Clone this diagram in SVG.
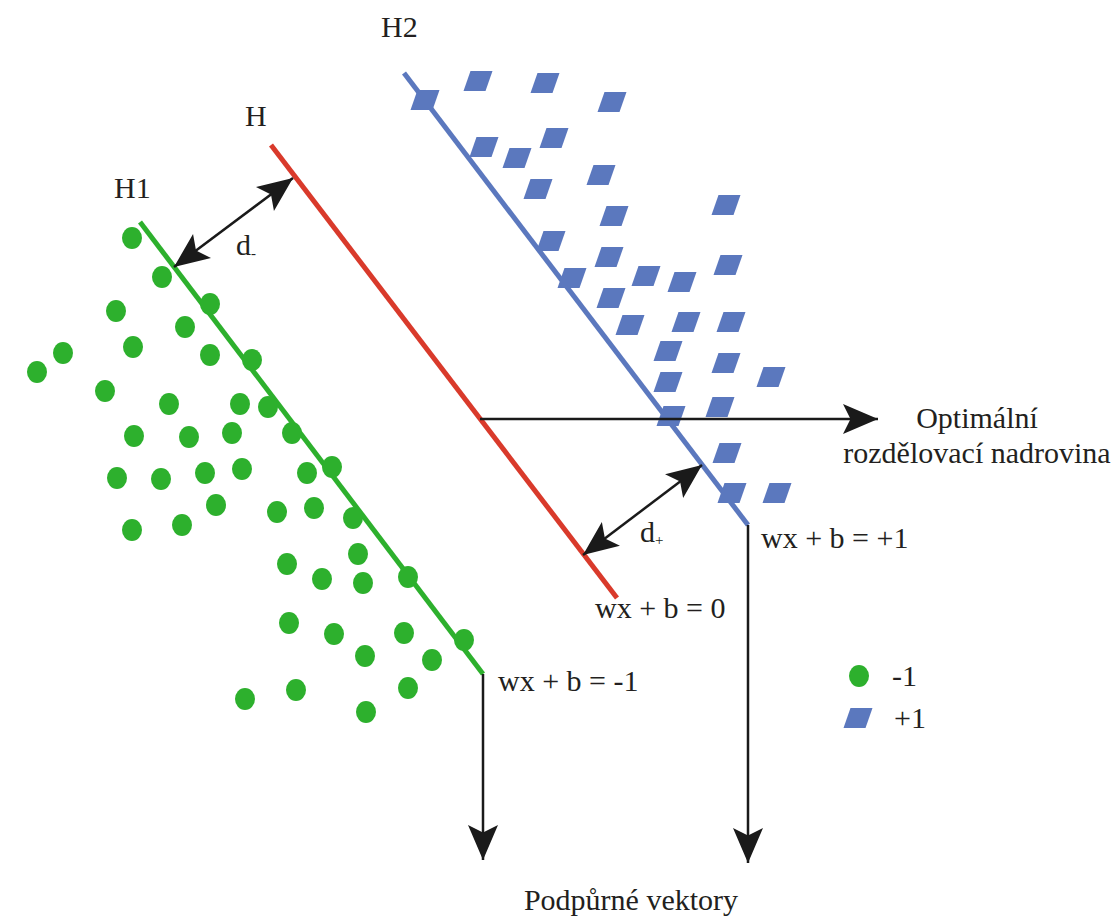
<svg xmlns="http://www.w3.org/2000/svg" width="1115" height="918" viewBox="0 0 1115 918">
<style>
text{font-family:"Liberation Serif","Times New Roman",serif;font-size:30px;fill:#231f20}
.sub{font-size:15px}
.dot{fill:#2db02d}
.sq{fill:#5b78be}
.arr{stroke:#1a1a1a;stroke-width:2.5;fill:none}
</style>
<defs>
<marker id="ah" markerUnits="userSpaceOnUse" markerWidth="40" markerHeight="40" viewBox="-30 -15 32 30" refX="0" refY="0" orient="auto-start-reverse">
<path d="M0,0 L-28,-12 L-22,0 L-28,12 Z" fill="#1a1a1a"/>
</marker>
<ellipse id="c" rx="10" ry="11"/>
<path id="p" d="M-7.5,-10 L14.5,-10 L7.5,10 L-14.5,10 Z"/>
</defs>
<rect width="1115" height="918" fill="#fff"/>
<g id="H1-line"><line x1="140" y1="222" x2="483" y2="674" stroke="#2db02d" stroke-width="5"/></g>
<g id="H-line"><line x1="271" y1="145" x2="617" y2="598" stroke="#d93a2b" stroke-width="5"/></g>
<g id="H2-line"><line x1="404" y1="73" x2="748" y2="525" stroke="#5b78be" stroke-width="5"/></g>
<g id="neg-points" class="dot">
<use href="#c" x="132" y="238"/><use href="#c" x="162" y="277"/><use href="#c" x="210" y="304"/><use href="#c" x="116" y="311"/>
<use href="#c" x="185" y="327"/><use href="#c" x="133" y="347"/><use href="#c" x="63" y="353"/><use href="#c" x="37" y="372"/>
<use href="#c" x="210" y="355"/><use href="#c" x="252" y="360"/><use href="#c" x="105" y="391"/><use href="#c" x="169" y="404"/>
<use href="#c" x="240" y="404"/><use href="#c" x="268" y="407"/><use href="#c" x="292" y="433"/><use href="#c" x="134" y="436"/>
<use href="#c" x="189" y="437"/><use href="#c" x="232" y="433"/><use href="#c" x="117" y="478"/><use href="#c" x="161" y="479"/>
<use href="#c" x="205" y="473"/><use href="#c" x="242" y="469"/><use href="#c" x="307" y="473"/><use href="#c" x="332" y="467"/>
<use href="#c" x="216" y="505"/><use href="#c" x="277" y="512"/><use href="#c" x="314" y="508"/><use href="#c" x="353" y="518"/>
<use href="#c" x="132" y="530"/><use href="#c" x="182" y="525"/><use href="#c" x="358" y="554"/><use href="#c" x="287" y="564"/>
<use href="#c" x="322" y="579"/><use href="#c" x="363" y="583"/><use href="#c" x="408" y="577"/><use href="#c" x="289" y="623"/>
<use href="#c" x="334" y="634"/><use href="#c" x="404" y="633"/><use href="#c" x="464" y="640"/><use href="#c" x="365" y="656"/>
<use href="#c" x="432" y="660"/><use href="#c" x="245" y="699"/><use href="#c" x="296" y="690"/><use href="#c" x="408" y="688"/>
<use href="#c" x="366" y="712"/>
</g>
<g id="pos-points" class="sq">
<use href="#p" x="478" y="81"/><use href="#p" x="545" y="83"/><use href="#p" x="612" y="102"/><use href="#p" x="425" y="100"/>
<use href="#p" x="484" y="147"/><use href="#p" x="554" y="138"/><use href="#p" x="517" y="158"/><use href="#p" x="601" y="175"/>
<use href="#p" x="538" y="189"/><use href="#p" x="614" y="216"/><use href="#p" x="726" y="205"/><use href="#p" x="551" y="241"/>
<use href="#p" x="609" y="257"/><use href="#p" x="728" y="265"/><use href="#p" x="572" y="278"/><use href="#p" x="646" y="276"/>
<use href="#p" x="682" y="282"/><use href="#p" x="611" y="298"/><use href="#p" x="630" y="325"/><use href="#p" x="686" y="322"/>
<use href="#p" x="731" y="322"/><use href="#p" x="668" y="351"/><use href="#p" x="726" y="363"/><use href="#p" x="771" y="377"/>
<use href="#p" x="668" y="382"/><use href="#p" x="720" y="407"/><use href="#p" x="671" y="416"/><use href="#p" x="727" y="453"/>
<use href="#p" x="732" y="493"/><use href="#p" x="777" y="493"/>
</g>
<g id="connectors">
<line class="arr" x1="480" y1="419" x2="878" y2="419" marker-end="url(#ah)"/>
<line class="arr" x1="174" y1="267" x2="293" y2="178" marker-start="url(#ah)" marker-end="url(#ah)"/>
<line class="arr" x1="583" y1="555" x2="702" y2="465" marker-start="url(#ah)" marker-end="url(#ah)"/>
<line class="arr" x1="483" y1="674" x2="483" y2="860" marker-end="url(#ah)"/>
<line class="arr" x1="748" y1="525" x2="748" y2="863" marker-end="url(#ah)"/>
</g>
<g id="labels">
<text x="381" y="37">H2</text>
<text x="245" y="126">H</text>
<text x="114" y="198">H1</text>
<text x="236" y="255">d<tspan class="sub" dy="3">-</tspan></text>
<text x="640" y="542">d<tspan class="sub" dy="3">+</tspan></text>
<text x="977" y="428" text-anchor="middle">Optimální</text>
<text x="977" y="463" text-anchor="middle">rozdělovací nadrovina</text>
<text x="761" y="548">wx + b = +1</text>
<text x="595" y="618">wx + b = 0</text>
<text x="498" y="691">wx + b = -1</text>
<text x="631" y="910" text-anchor="middle">Podpůrné vektory</text>
</g>
<g id="legend">
<use href="#c" class="dot" x="859" y="676"/>
<text x="892" y="686">-1</text>
<use href="#p" class="sq" x="858" y="718"/>
<text x="894" y="728">+1</text>
</g>
</svg>
